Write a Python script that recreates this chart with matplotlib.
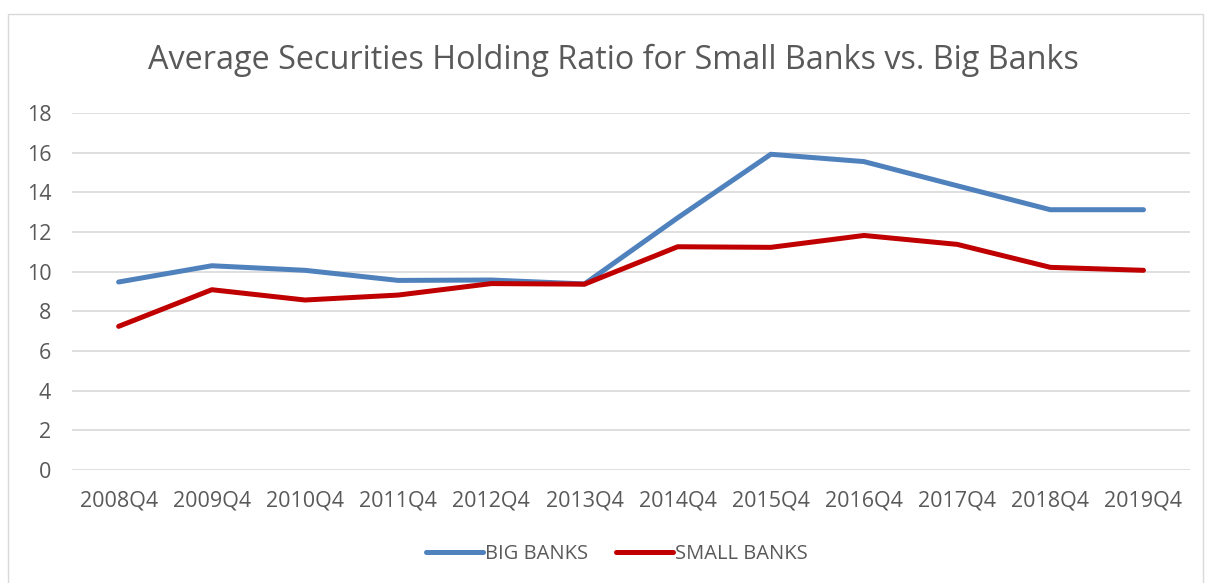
import matplotlib.pyplot as plt
from matplotlib.patches import Rectangle

quarters = ["2008Q4", "2009Q4", "2010Q4", "2011Q4", "2012Q4", "2013Q4",
            "2014Q4", "2015Q4", "2016Q4", "2017Q4", "2018Q4", "2019Q4"]
big_banks = [9.48, 10.30, 10.07, 9.56, 9.58, 9.38, 12.72, 15.93, 15.56, 14.34, 13.13, 13.13]
small_banks = [7.24, 9.09, 8.57, 8.82, 9.40, 9.37, 11.26, 11.23, 11.83, 11.38, 10.22, 10.07]
y_ticks = [0, 2, 4, 6, 8, 10, 12, 14, 16, 18]

text_color = "#595959"
plt.rcParams["font.family"] = ["Open Sans", "DejaVu Sans"]

fig = plt.figure(figsize=(12.05, 5.83), dpi=100)
ax = fig.add_axes([0.0598, 0.1943, 0.9278, 0.6114])

x = list(range(len(quarters)))
ax.plot(x, big_banks, color="#4F81BD", linewidth=3.6, label="BIG BANKS",
        solid_capstyle="round", solid_joinstyle="round")
ax.plot(x, small_banks, color="#C00000", linewidth=3.6, label="SMALL BANKS",
        solid_capstyle="round", solid_joinstyle="round")

ax.set_xlim(-0.5, len(quarters) - 0.5)
ax.set_ylim(0, 18)
ax.set_yticks(y_ticks)
ax.set_xticks(x)
ax.set_xticklabels(quarters)
ax.grid(axis="y", color="#D9D9D9", linewidth=1.2)
ax.set_axisbelow(True)
for side in ["top", "right", "left", "bottom"]:
    ax.spines[side].set_visible(False)
ax.tick_params(axis="both", length=0, labelsize=15.5, colors=text_color)
ax.tick_params(axis="x", pad=15)
ax.tick_params(axis="y", pad=15)

fig.text(0.509, 0.897, "Average Securities Holding Ratio for Small Banks vs. Big Banks",
         ha="center", va="center", fontsize=23.3, color=text_color)

fig.legend(loc="center", bbox_to_anchor=(0.512, 0.05), ncol=2, frameon=False,
           fontsize=14.5, handlelength=2.8, columnspacing=1.4, handletextpad=0.12,
           labelcolor=text_color)

fig.patches.append(Rectangle((8 / 1205, -0.01), 1195 / 1205, 1 - 14 / 583 + 0.01,
                             transform=fig.transFigure, fill=False,
                             edgecolor="#D9D9D9", linewidth=1))

fig.savefig("out.png", dpi=100)
